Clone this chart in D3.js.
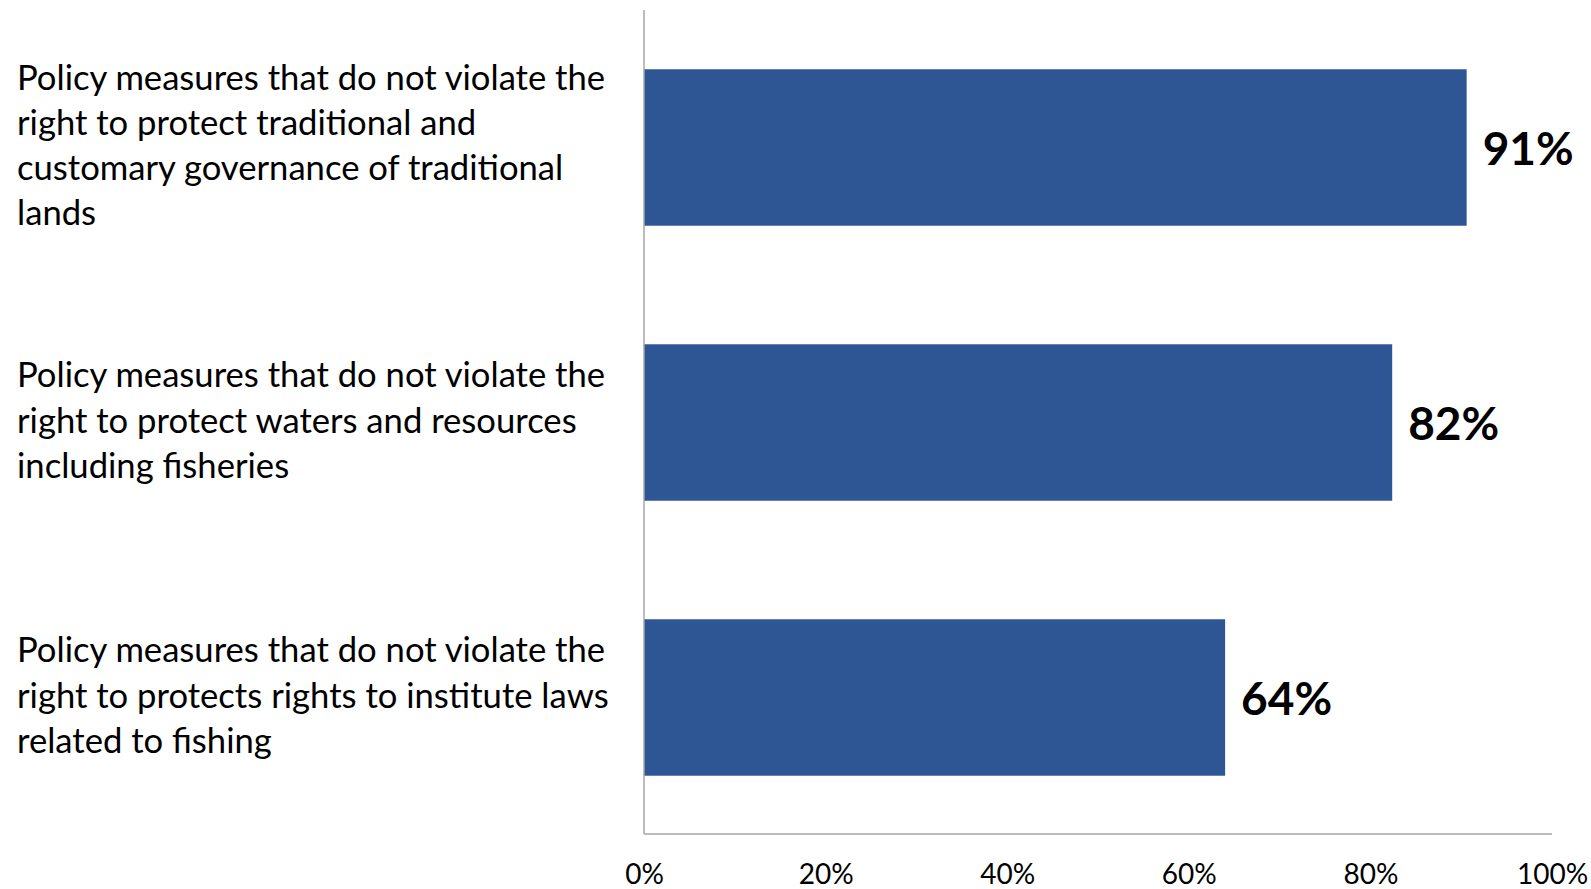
<!DOCTYPE html>
<html>
<head>
<meta charset="utf-8">
<script src="https://cdn.jsdelivr.net/npm/d3@7"></script>
<style>
  html, body { margin: 0; padding: 0; background: #ffffff; }
  svg { display: block; }
  text { font-family: Lato, "Open Sans", sans-serif; fill: #000; }
</style>
</head>
<body>
<svg id="chart" width="1591" height="889"></svg>
<script>
// ---- data ----
const categories = [
  "Policy measures that do not violate the\nright to protect traditional and\ncustomary governance of traditional\nlands",
  "Policy measures that do not violate the\nright to protect waters and resources\nincluding fisheries",
  "Policy measures that do not violate the\nright to protects rights to institute laws\nrelated to fishing"
];
const values = [0.906, 0.824, 0.64];
const tickValues = [0, 0.2, 0.4, 0.6, 0.8, 1.0];
const tickLabels = ["0%", "20%", "40%", "60%", "80%", "100%"];
const valueLabels = ["91%", "82%", "64%"];

// ---- layout ----
const svg = d3.select("#chart");
const plot = { left: 644, right: 1552, top: 10, bottom: 835 };
const barColor = "#2E5594";
const axisColor = "#A6A6A6";

const x = d3.scaleLinear().domain([0, 1]).range([plot.left, plot.right]);
const y = d3.scaleBand().domain(categories).range([plot.top, plot.bottom])
  .paddingInner(0.431).paddingOuter(0.2155);

// bars
svg.append("g").selectAll("rect")
  .data(categories)
  .join("rect")
  .attr("x", x(0))
  .attr("y", d => y(d))
  .attr("width", (d, i) => x(values[i]) - x(0))
  .attr("height", y.bandwidth())
  .attr("fill", barColor);

// axes lines
svg.append("line")
  .attr("x1", x(0)).attr("x2", x(0))
  .attr("y1", plot.top).attr("y2", plot.bottom - 1)
  .attr("stroke", axisColor).attr("stroke-width", 1.5);
svg.append("line")
  .attr("x1", x(0)).attr("x2", x(1))
  .attr("y1", plot.bottom - 1).attr("y2", plot.bottom - 1)
  .attr("stroke", axisColor).attr("stroke-width", 1.5);

// x tick labels via d3 axis
const xAxis = d3.axisBottom(x)
  .tickValues(tickValues)
  .tickFormat((d, i) => tickLabels[i])
  .tickSize(0)
  .tickPadding(0);
const gx = svg.append("g")
  .attr("transform", `translate(0, 884)`)
  .call(xAxis);
gx.select(".domain").remove();
gx.selectAll("text")
  .attr("dy", 0)
  .attr("y", 0)
  .style("font-family", "Lato, 'Open Sans', sans-serif")
  .style("font-size", "28px")
  .attr("fill", "#000");

// value labels
svg.append("g").selectAll("text")
  .data(categories)
  .join("text")
  .attr("x", (d, i) => x(values[i]) + 16)
  .attr("y", (d, i) => y(d) + y.bandwidth() / 2 + 17)
  .style("font-size", "46px")
  .style("font-weight", "bold")
  .text((d, i) => valueLabels[i]);

// category labels
const lineGap = 45.3;
const catG = svg.append("g");
const catTexts = catG.selectAll("text")
  .data(categories)
  .join("text")
  .attr("x", 17)
  .style("font-size", "30px");
catTexts.each(function (d) {
  const lines = d.split("\n");
  const cy = y(d) + y.bandwidth() / 2;
  const t = d3.select(this);
  lines.forEach((ln, i) => {
    t.append("tspan")
      .attr("x", 17)
      .attr("y", cy + (i - (lines.length - 1) / 2) * lineGap + 10)
      .text(ln);
  });
});
// fit font size so widest line matches target width
let maxW = 0;
catG.selectAll("tspan").each(function () { maxW = Math.max(maxW, this.getComputedTextLength()); });
const targetW = 592;
const fs = 30 * targetW / maxW;
catTexts.style("font-size", fs + "px");
</script>
</body>
</html>
